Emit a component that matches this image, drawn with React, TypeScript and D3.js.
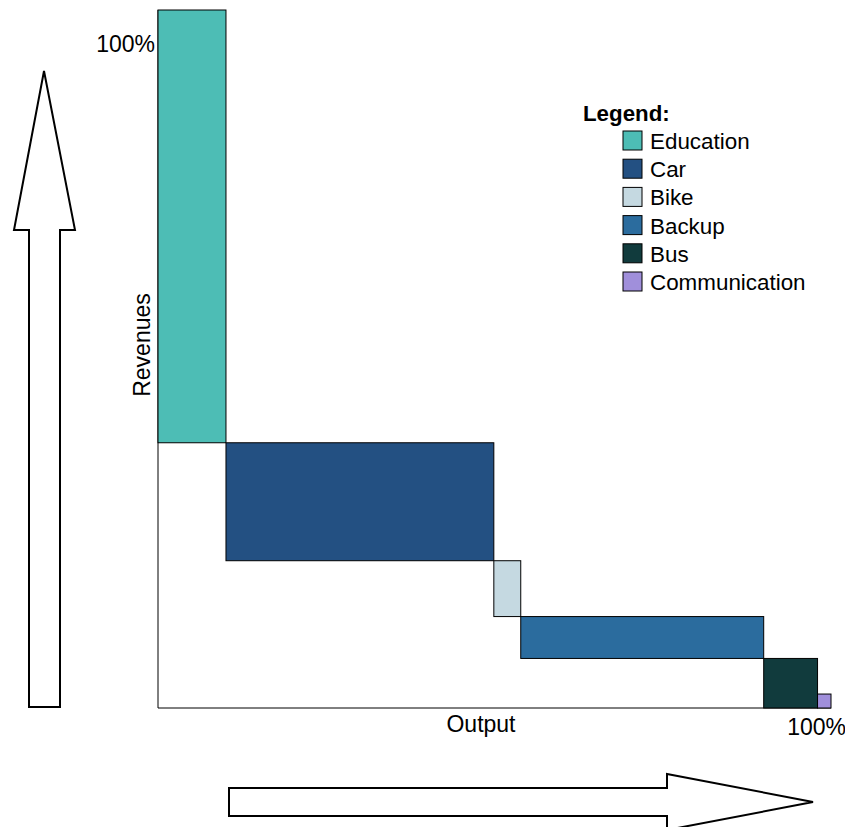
import React from "react";
import * as d3 from "d3";

const categories = ["Education", "Car", "Bike", "Backup", "Bus", "Communication"];
const outputShare = [10.1, 39.8, 4.0, 36.1, 8.0, 2.0];
const revenueShare = [62.0, 16.9, 8.0, 6.0, 7.1, 2.0];
const colors = ["#4DBDB5", "#235082", "#C5D9E1", "#2B6C9E", "#113B3D", "#A08FDB"];
const axisLabels = { x: "Output", y: "Revenues", max: "100%" };

const W = 845;
const H = 827;
const FONT = "'Liberation Sans', Arial, sans-serif";

export default function App() {
  const x = d3.scaleLinear().domain([0, 100]).range([158, 831]);
  const y = d3.scaleLinear().domain([0, 100]).range([708, 10]);

  let cumX = 0;
  let cumY = 0;
  const rects = categories.map((c, i) => {
    const x0 = cumX;
    const x1 = cumX + outputShare[i];
    cumX = x1;
    let top = 100 - cumY;
    let bottom = top - revenueShare[i];
    if (top <= 0.05) {
      top = revenueShare[i];
      bottom = 0;
    }
    bottom = Math.max(0, bottom);
    cumY += revenueShare[i];
    return { c, x0, x1, top, bottom, color: colors[i] };
  });

  const legendY = d3.scaleLinear().domain([0, 1]).range([141, 169.2]);

  const upArrow = d3.line()([
    [29, 707], [29, 230], [14, 230], [44, 71], [75, 230], [60, 230], [60, 707],
  ]) + "Z";
  const rightArrow = d3.line()([
    [229, 788], [667, 788], [667, 774], [813, 802], [667, 830], [667, 816], [229, 816],
  ]) + "Z";

  return (
    <svg width={W} height={H} style={{ position: "absolute", left: 0, top: 0 }} fontFamily={FONT}>
      <rect width={W} height={H} fill="#fff" />
      <line x1={x(0)} x2={x(0)} y1={y(0)} y2={y(100)} stroke="#000" strokeWidth={1} />
      <line x1={x(0)} x2={x(100)} y1={y(0)} y2={y(0)} stroke="#000" strokeWidth={1} />
      {rects.map((r) => (
        <rect
          key={r.c}
          x={x(r.x0)}
          y={y(r.top)}
          width={x(r.x1) - x(r.x0)}
          height={y(r.bottom) - y(r.top)}
          fill={r.color}
          stroke="#000"
          strokeWidth={1}
        />
      ))}
      <text x={155} y={52} fontSize={23} textAnchor="end">{axisLabels.max}</text>
      <text x={846} y={735} fontSize={23} textAnchor="end">{axisLabels.max}</text>
      <text x={481} y={732} fontSize={23} textAnchor="middle">{axisLabels.x}</text>
      <text
        transform={`translate(150,345) rotate(-90)`}
        fontSize={23}
        textAnchor="middle"
      >
        {axisLabels.y}
      </text>
      <text x={583} y={121} fontSize={22.3} fontWeight="bold">Legend:</text>
      {categories.map((c, i) => {
        const cy = legendY(i);
        return (
          <g key={c}>
            <rect x={623} y={cy - 10} width={19} height={19} fill={colors[i]} stroke="#000" strokeWidth={1} />
            <text x={650} y={cy + 8} fontSize={22.4}>{c}</text>
          </g>
        );
      })}
      <path d={upArrow} fill="#fff" stroke="#000" strokeWidth={2} />
      <path d={rightArrow} fill="#fff" stroke="#000" strokeWidth={2} />
    </svg>
  );
}
